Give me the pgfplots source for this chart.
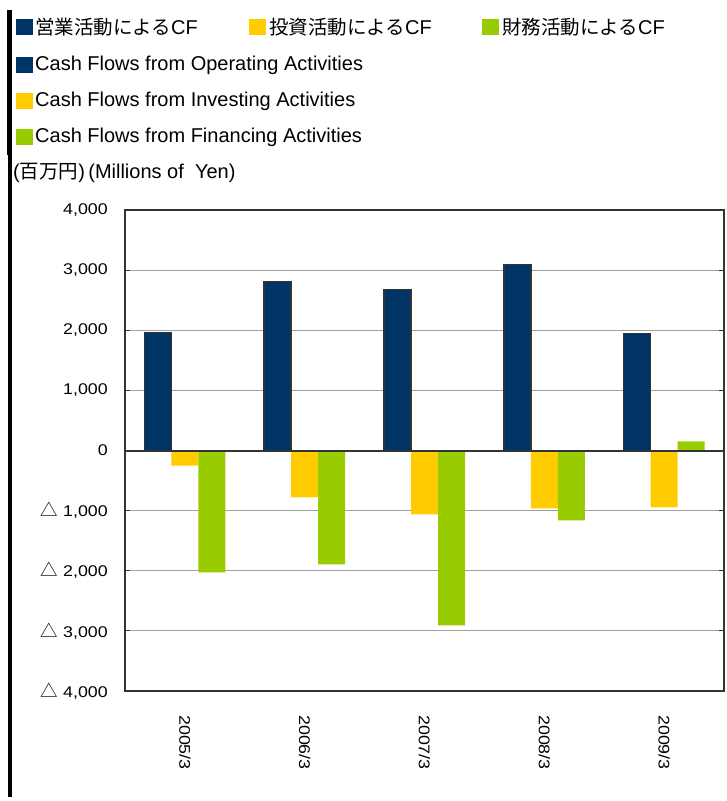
\documentclass[border=0pt]{standalone}
\usepackage{fontspec}
\setmainfont{Liberation Sans}
\newfontfamily\jp{Noto Sans CJK JP}
\newfontfamily\lat{Liberation Sans}
\newfontfamily\tickf[FakeStretch=1.15]{Liberation Sans}
\usepackage{pgfplots}
\pgfplotsset{compat=1.18}
\definecolor{opc}{HTML}{003366}
\definecolor{inv}{HTML}{FFCC00}
\definecolor{fin}{HTML}{99CC00}
\definecolor{frm}{HTML}{333333}
\definecolor{grd}{HTML}{A0A0A0}
\newcommand{\jpt}{\jp\fontsize{19.5}{22}\selectfont}
\newcommand{\lt}{\lat\fontsize{20}{22}\selectfont}
\begin{document}
\begin{tikzpicture}
\useasboundingbox (0,0) rectangle (726pt,-801pt);
% left black rule
\fill[black] (7.3pt,-10pt) rectangle (12.3pt,-155pt);
\fill[black] (8.3pt,-155pt) rectangle (11.7pt,-797pt);
% legend
\fill[opc] (16pt,-19pt) rectangle (33pt,-35pt);
\node[anchor=west,inner sep=0pt] at (35pt,-27pt) {\jpt 営業活動による{\lt CF}};
\fill[inv] (249pt,-19pt) rectangle (266pt,-35pt);
\node[anchor=west,inner sep=0pt] at (269pt,-27pt) {\jpt 投資活動による{\lt CF}};
\fill[fin] (482pt,-19pt) rectangle (499pt,-35pt);
\node[anchor=west,inner sep=0pt] at (502pt,-27pt) {\jpt 財務活動による{\lt CF}};
\fill[opc] (16pt,-57pt) rectangle (33pt,-73pt);
\node[anchor=west,inner sep=0pt] at (35pt,-65pt) {\lt Cash Flows from Operating Activities};
\fill[inv] (16pt,-93pt) rectangle (33pt,-109pt);
\node[anchor=west,inner sep=0pt] at (35pt,-101pt) {\lt Cash Flows from Investing Activities};
\fill[fin] (16pt,-129pt) rectangle (33pt,-145pt);
\node[anchor=west,inner sep=0pt] at (35pt,-137pt) {\lt Cash Flows from Financing Activities};
\node[anchor=west,inner sep=0pt] at (13pt,-173pt) {\lt (\jpt 百万円\lt )\,(Millions of\ \ Yen)};
\begin{axis}[
  at={(125pt,-210pt)}, anchor=north west,
  scale only axis, width=599pt, height=481pt,
  ybar=0pt, bar width=27pt,
  xmin=-0.5, xmax=4.5, ymin=-4000, ymax=4000,
  xtick={0,1,2,3,4},
  xticklabels={2005/3,2006/3,2007/3,2008/3,2009/3},
  xtick style={draw=none},
  xticklabel style={rotate=-90, anchor=west, inner sep=0pt, font=\tickf\fontsize{15.5}{16}\selectfont},
  xticklabel shift=24pt,
  ytick={-4000,-3000,-2000,-1000,0,1000,2000,3000,4000},
  yticklabels={{{\jp\fontsize{17.5}{18}\selectfont △}\ 4,000},{{\jp\fontsize{17.5}{18}\selectfont △}\ 3,000},{{\jp\fontsize{17.5}{18}\selectfont △}\ 2,000},{{\jp\fontsize{17.5}{18}\selectfont △}\ 1,000},0,{1,000},{2,000},{3,000},{4,000}},
  yticklabel style={anchor=east, inner sep=0pt, xshift=-17pt, font=\tickf\fontsize{15.5}{16}\selectfont},
  tick align=inside, major tick length=5pt,
  ytick style={frm, line width=1pt},
  ymajorgrids, grid style={grd, line width=1.2pt},
  axis line style={frm, line width=2pt},
]
\addplot[fill=opc, draw=frm, line width=1.5pt] coordinates {(0,1960) (1,2807) (2,2674) (3,3090) (4,1944)};
\addplot[fill=inv, draw=none] coordinates {(0,-250) (1,-780) (2,-1063) (3,-963) (4,-947)};
\addplot[fill=fin, draw=none] coordinates {(0,-2027) (1,-1894) (2,-2907) (3,-1163) (4,150)};
\draw[frm, line width=2pt] (axis cs:-0.5,0) -- (axis cs:4.5,0);
\end{axis}
\end{tikzpicture}
\end{document}
